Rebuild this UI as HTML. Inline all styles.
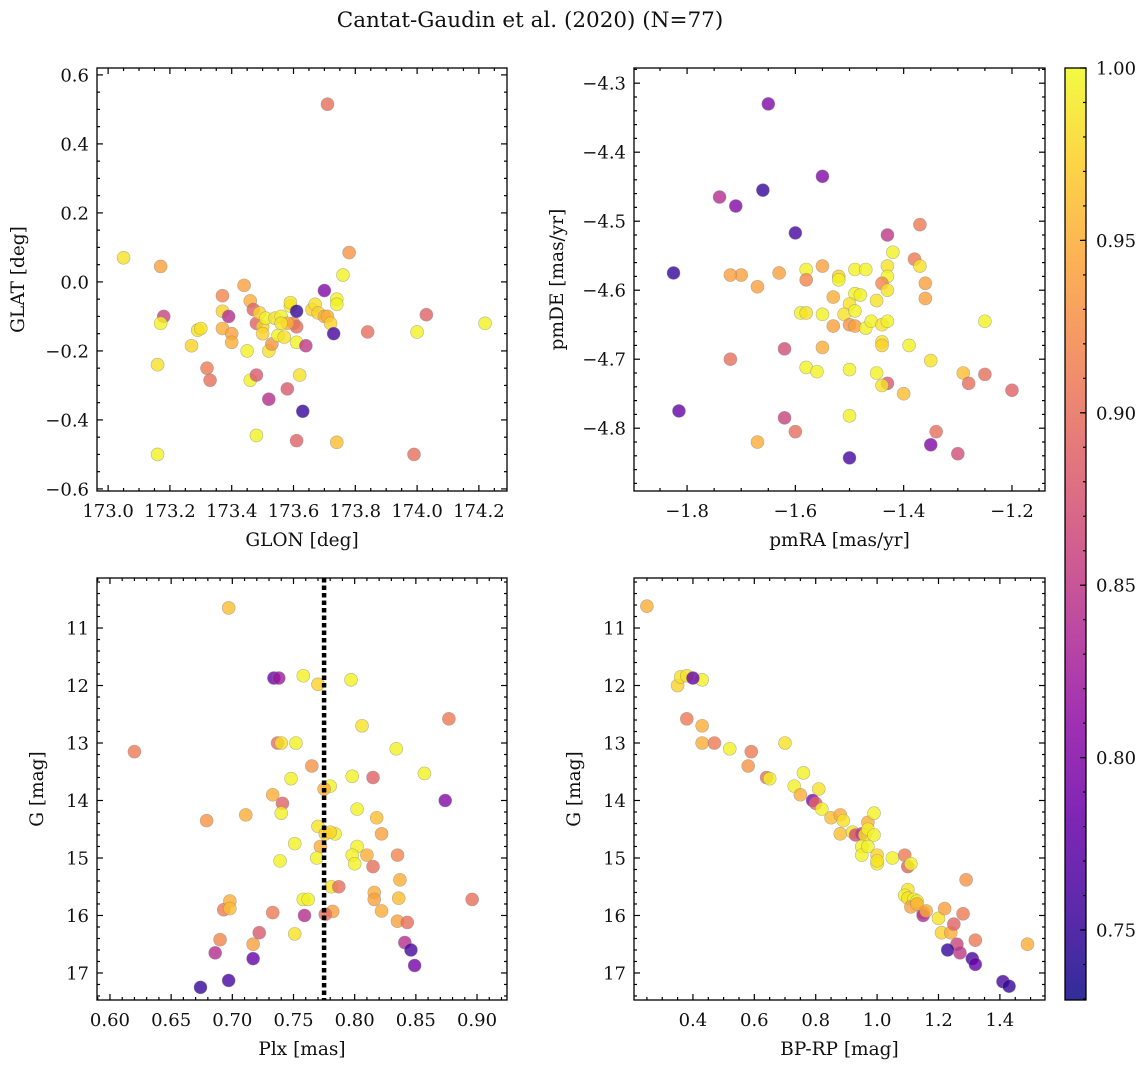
<!DOCTYPE html>
<html><head><meta charset="utf-8"><style>
body{margin:0;background:#fff}
svg text{font-family:"DejaVu Serif","Liberation Serif",serif;fill:#111}
</style></head><body>
<svg id="fig" width="1148" height="1067" xmlns="http://www.w3.org/2000/svg">
<text x="530" y="27" font-size="21.5" text-anchor="middle">Cantat-Gaudin et al. (2020) (N=77)</text>
</svg>
<script>
const glonVals=[173.05,173.17,173.18,173.17,173.16,173.16,173.27,173.29,173.3,173.32,173.33,173.37,173.37,173.37,173.39,173.4,173.4,173.44,173.45,173.46,173.46,173.47,173.48,173.48,173.48,173.49,173.5,173.5,173.51,173.52,173.52,173.53,173.54,173.55,173.56,173.57,173.58,173.59,173.59,173.6,173.61,173.61,173.61,173.62,173.61,173.63,173.64,173.66,173.67,173.68,173.7,173.7,173.71,173.71,173.72,173.73,173.74,173.74,173.74,173.76,173.78,173.84,173.99,174.0,174.03,174.22,173.58,173.56];
const glatVals=[0.07,0.045,-0.10,-0.12,-0.24,-0.50,-0.185,-0.14,-0.135,-0.25,-0.285,-0.04,-0.085,-0.135,-0.10,-0.15,-0.175,-0.01,-0.20,-0.285,-0.055,-0.08,-0.12,-0.27,-0.445,-0.09,-0.13,-0.15,-0.105,-0.34,-0.20,-0.18,-0.105,-0.155,-0.10,-0.16,-0.31,-0.07,-0.06,-0.12,-0.085,-0.13,-0.175,-0.27,-0.46,-0.375,-0.185,-0.08,-0.065,-0.09,-0.025,-0.10,-0.10,0.515,-0.12,-0.15,-0.05,-0.065,-0.465,0.02,0.085,-0.145,-0.50,-0.145,-0.095,-0.12,-0.12,-0.12];
const probTL=[0.985,0.94,0.86,0.995,0.985,0.995,0.975,0.985,0.985,0.91,0.90,0.92,0.975,0.95,0.84,0.94,0.95,0.94,0.995,0.995,0.95,0.89,0.89,0.88,0.995,0.975,0.975,0.975,0.995,0.84,0.985,0.93,0.985,0.995,0.995,0.985,0.88,0.995,0.985,0.92,0.75,0.90,0.995,0.985,0.89,0.75,0.85,0.975,0.985,0.975,0.80,0.95,0.95,0.90,0.975,0.76,0.995,0.995,0.96,0.995,0.93,0.90,0.90,0.995,0.89,0.995,0.95,0.985];
const pmraVals=[-1.65,-1.55,-1.74,-1.71,-1.66,-1.825,-1.815,-1.60,-1.43,-1.37,-1.38,-1.37,-1.70,-1.72,-1.67,-1.63,-1.58,-1.58,-1.55,-1.52,-1.52,-1.49,-1.47,-1.43,-1.42,-1.43,-1.44,-1.36,-1.36,-1.43,-1.45,-1.49,-1.48,-1.50,-1.53,-1.51,-1.49,-1.59,-1.58,-1.55,-1.53,-1.50,-1.49,-1.47,-1.46,-1.44,-1.43,-1.62,-1.55,-1.44,-1.44,-1.39,-1.35,-1.72,-1.58,-1.56,-1.50,-1.45,-1.43,-1.44,-1.40,-1.29,-1.28,-1.25,-1.25,-1.20,-1.50,-1.67,-1.62,-1.60,-1.34,-1.35,-1.30,-1.50];
const pmdeVals=[-4.33,-4.435,-4.465,-4.478,-4.455,-4.575,-4.775,-4.517,-4.52,-4.505,-4.555,-4.565,-4.578,-4.578,-4.595,-4.575,-4.57,-4.585,-4.565,-4.58,-4.585,-4.57,-4.57,-4.565,-4.545,-4.58,-4.59,-4.59,-4.612,-4.6,-4.615,-4.605,-4.607,-4.62,-4.61,-4.635,-4.63,-4.633,-4.633,-4.635,-4.652,-4.65,-4.652,-4.655,-4.645,-4.65,-4.645,-4.685,-4.683,-4.675,-4.68,-4.68,-4.702,-4.70,-4.712,-4.718,-4.715,-4.72,-4.735,-4.738,-4.75,-4.72,-4.735,-4.722,-4.645,-4.745,-4.782,-4.82,-4.785,-4.805,-4.805,-4.824,-4.837,-4.843];
const probTR=[0.80,0.80,0.84,0.80,0.75,0.75,0.78,0.76,0.85,0.91,0.91,0.985,0.94,0.94,0.94,0.94,0.995,0.92,0.94,0.975,0.995,0.995,0.995,0.985,0.995,0.995,0.92,0.94,0.94,0.985,0.985,0.995,0.995,0.985,0.95,0.985,0.995,0.995,0.985,0.995,0.94,0.93,0.94,0.995,0.995,0.985,0.995,0.87,0.95,0.985,0.975,0.995,0.985,0.90,0.995,0.995,0.995,0.995,0.88,0.985,0.96,0.96,0.90,0.90,0.995,0.89,0.995,0.95,0.86,0.90,0.90,0.80,0.87,0.76];
const plxVals=[0.697,0.734,0.738,0.758,0.770,0.797,0.806,0.877,0.620,0.737,0.740,0.752,0.765,0.780,0.775,0.798,0.815,0.834,0.857,0.874,0.748,0.733,0.741,0.740,0.711,0.679,0.770,0.776,0.784,0.780,0.802,0.818,0.822,0.751,0.772,0.802,0.798,0.810,0.739,0.769,0.800,0.815,0.835,0.837,0.781,0.787,0.816,0.816,0.758,0.762,0.822,0.836,0.835,0.843,0.896,0.782,0.776,0.759,0.733,0.693,0.698,0.698,0.751,0.722,0.690,0.717,0.686,0.841,0.846,0.717,0.697,0.674,0.849];
const gPlxVals=[10.65,11.87,11.87,11.83,11.98,11.9,12.7,12.58,13.15,13.0,13.0,13.0,13.4,13.75,13.8,13.58,13.6,13.1,13.53,14.0,13.62,13.9,14.05,14.22,14.25,14.35,14.45,14.58,14.58,14.55,14.15,14.3,14.58,14.75,14.8,14.8,14.95,14.95,15.05,15.0,15.1,15.15,14.95,15.38,15.5,15.5,15.6,15.72,15.72,15.72,15.92,15.7,16.1,16.12,15.72,15.93,15.98,16.0,15.95,15.9,15.75,15.88,16.32,16.3,16.42,16.5,16.65,16.47,16.6,16.75,17.13,17.25,16.87];
const probBL=[0.96,0.78,0.82,0.995,0.975,0.995,0.985,0.91,0.91,0.90,0.985,0.995,0.93,0.995,0.95,0.995,0.89,0.995,0.995,0.80,0.995,0.95,0.89,0.995,0.95,0.93,0.985,0.975,0.995,0.975,0.995,0.96,0.94,0.995,0.95,0.995,0.995,0.95,0.995,0.995,0.995,0.90,0.92,0.95,0.985,0.90,0.95,0.94,0.995,0.995,0.95,0.96,0.94,0.90,0.90,0.94,0.90,0.84,0.91,0.91,0.95,0.96,0.985,0.88,0.92,0.94,0.84,0.84,0.76,0.78,0.76,0.75,0.79];
const plxLine=0.775;
const bprpVals=[0.25,0.35,0.36,0.38,0.43,0.40,0.38,0.43,0.43,0.47,0.52,0.59,0.58,0.70,0.64,0.65,0.73,0.76,0.75,0.79,0.80,0.81,0.82,0.85,0.88,0.89,0.88,0.92,0.93,0.95,0.96,0.97,0.97,0.99,0.99,0.95,0.95,0.97,1.0,1.0,1.05,1.09,1.1,1.11,1.1,1.09,1.1,1.12,1.11,1.13,1.15,1.15,1.16,1.2,1.22,1.21,1.24,1.25,1.26,1.28,1.29,1.32,1.23,1.27,1.31,1.32,1.41,1.43,1.49,1.0,1.13];
const gCmdVals=[10.62,12.0,11.85,11.83,11.9,11.87,12.58,12.7,13.0,13.0,13.1,13.15,13.4,13.0,13.6,13.62,13.75,13.52,13.9,14.0,14.05,13.8,14.15,14.3,14.25,14.35,14.58,14.55,14.6,14.58,14.6,14.38,14.5,14.22,14.6,14.8,14.95,14.8,14.95,15.1,15.0,14.95,15.15,15.1,15.55,15.65,15.7,15.72,15.85,15.75,15.95,16.0,15.92,16.05,15.88,16.3,16.3,16.15,16.5,15.97,15.38,16.43,16.6,16.65,16.75,16.85,17.15,17.23,16.5,15.05,15.8];
const probBR=[0.95,0.975,0.985,0.985,0.995,0.78,0.91,0.95,0.95,0.91,0.995,0.91,0.93,0.985,0.90,0.995,0.995,0.995,0.95,0.80,0.89,0.985,0.995,0.96,0.95,0.985,0.96,0.985,0.87,0.85,0.985,0.95,0.995,0.995,0.995,0.995,0.995,0.995,0.975,0.995,0.995,0.91,0.89,0.995,0.985,0.995,0.985,0.995,0.94,0.995,0.90,0.84,0.95,0.985,0.94,0.975,0.95,0.89,0.86,0.91,0.93,0.91,0.75,0.85,0.76,0.78,0.76,0.75,0.95,0.985,0.95];
const cbTicks=[0.75,0.80,0.85,0.90,0.95,1.00];
const CMIN=0.7297,CMAX=1.0;

const NS="http://www.w3.org/2000/svg";
const svg=document.getElementById('fig');
function mk(t,a,p){const e=document.createElementNS(NS,t);for(const k in a)e.setAttribute(k,a[k]);(p||svg).appendChild(e);return e;}
const stops=["#0d0887","#41049d","#6a00a8","#8f0da4","#b12a90","#cc4778","#e16462","#f2844b","#fca636","#fcce25","#f0f921"];
function hex(h){return [1,3,5].map(i=>parseInt(h.substr(i,2),16));}
function plasma(t){t=Math.max(0,Math.min(1,t));const f=t*10,i=Math.min(9,Math.floor(f)),r=f-i;const a=hex(stops[i]),b=hex(stops[i+1]);return 'rgb('+a.map((v,k)=>Math.round(v+(b[k]-v)*r)).join(',')+')';}
function col(p){return plasma((p-CMIN)/(CMAX-CMIN));}
function fmt(v,d){return (v<0?'\u2212':'')+Math.abs(v).toFixed(d);}
const TF=18, LF=18.5;

function panel(o){
  const g=mk('g',{});
  
  
  const sx=v=>o.x0+(v-o.xr[0])/(o.xr[1]-o.xr[0])*(o.x1-o.x0);
  const sy=o.inv?(v=>o.y0+(v-o.yr[0])/(o.yr[1]-o.yr[0])*(o.y1-o.y0)):(v=>o.y1-(v-o.yr[0])/(o.yr[1]-o.yr[0])*(o.y1-o.y0));
  const tk=mk('g',{stroke:'#000','stroke-width':1.2},g);
  function ticks(r,step,minor,fn){const s=Math.ceil(r[0]/minor-1e-6),e=Math.floor(r[1]/minor+1e-6);for(let i=s;i<=e;i++){const v=i*minor;const isM=Math.abs(v/step-Math.round(v/step))<1e-6;fn(v,isM);}}
  ticks(o.xr,o.xs,o.xm,(v,M)=>{const X=sx(v),L=M?6:3;mk('line',{x1:X,x2:X,y1:o.y1,y2:o.y1-L},tk);mk('line',{x1:X,x2:X,y1:o.y0,y2:o.y0+L},tk);
    if(M){const t=mk('text',{x:X,y:o.y1+26,'font-size':TF,'text-anchor':'middle'},g);t.textContent=fmt(v,o.xd);}});
  ticks(o.yr,o.ys,o.ym,(v,M)=>{const Y=sy(v),L=M?6:3;mk('line',{x1:o.x0,x2:o.x0+L,y1:Y,y2:Y},tk);mk('line',{x1:o.x1,x2:o.x1-L,y1:Y,y2:Y},tk);
    if(M){const t=mk('text',{x:o.x0-8,y:Y+6.5,'font-size':TF,'text-anchor':'end'},g);t.textContent=fmt(v,o.yd);}});
  const pts=mk('g',{},g);
  
  
  o.xs_.forEach((xv,i)=>{const c=mk('circle',{cx:sx(xv),cy:sy(o.ys_[i]),r:6.5,fill:col(o.p[i]),'fill-opacity':0.8,stroke:'#888','stroke-opacity':0.6,'stroke-width':0.6},pts);
    
    });
  if(o.extra)o.extra(g,sx,sy);
  const fr=mk('rect',{x:o.x0,y:o.y0,width:o.x1-o.x0,height:o.y1-o.y0,fill:'none',stroke:'#000','stroke-width':1.3},g);
  
  
  const xl=mk('text',{x:(o.x0+o.x1)/2,y:o.y1+55,'font-size':LF,'text-anchor':'middle'},g);xl.textContent=o.xl;
  
  
  const cy=(o.y0+o.y1)/2,cx=o.x0-o.ylo;
  const yl=mk('text',{x:cx,y:cy,'font-size':LF,'text-anchor':'middle',transform:`rotate(-90 ${cx} ${cy})`},g);yl.textContent=o.yl;
  
  
}
panel({name:'panel-glon-glat',x0:97,x1:507,y0:68,y1:491,xr:[172.964,174.291],yr:[-0.606,0.620],xs:0.2,xm:0.05,ys:0.2,ym:0.05,xd:1,yd:1,xs_:glonVals,ys_:glatVals,p:probTL,xl:'GLON [deg]',yl:'GLAT [deg]',ylo:73});
panel({name:'panel-proper-motion',x0:634,x1:1045,y0:68,y1:491,xr:[-1.898,-1.139],yr:[-4.891,-4.278],xs:0.2,xm:0.05,ys:0.1,ym:0.02,xd:1,yd:1,xs_:pmraVals,ys_:pmdeVals,p:probTR,xl:'pmRA [mas/yr]',yl:'pmDE [mas/yr]',ylo:71});
panel({name:'panel-plx-g',x0:97,x1:507,y0:578,y1:1000,xr:[0.5894,0.9245],yr:[10.13,17.47],inv:true,xs:0.05,xm:0.01,ys:1,ym:0.2,xd:2,yd:0,xs_:plxVals,ys_:gPlxVals,p:probBL,xl:'Plx [mas]',yl:'G [mag]',ylo:54,
  extra:(g,sx,sy)=>{const l=mk('line',{x1:sx(plxLine),x2:sx(plxLine),y1:578,y2:1000,stroke:'#000','stroke-width':4.5,'stroke-dasharray':'4.5 3'},g);}});
panel({name:'panel-cmd',x0:634,x1:1045,y0:578,y1:1000,xr:[0.208,1.547],yr:[10.13,17.47],inv:true,xs:0.2,xm:0.05,ys:1,ym:0.2,xd:1,yd:0,xs_:bprpVals,ys_:gCmdVals,p:probBR,xl:'BP-RP [mag]',yl:'G [mag]',ylo:54});

const cb=mk('g',{});


const cx0=1065,cx1=1086,cy0=68,cy1=1000;
const defs=mk('defs',{},cb);const lg=mk('linearGradient',{id:'cbg',x1:0,y1:1,x2:0,y2:0},defs);
for(let i=0;i<=20;i++){mk('stop',{offset:i/20,'stop-color':plasma(i/20),'stop-opacity':0.85},lg);}
mk('rect',{x:cx0,y:cy0,width:cx1-cx0,height:cy1-cy0,fill:'url(#cbg)'},cb);
const cyv=v=>cy1-(v-CMIN)/(CMAX-CMIN)*(cy1-cy0);
for(let i=73;i<=100;i++){const v=i/100;const Y=cyv(v);mk('line',{x1:cx1,x2:cx1-3,y1:Y,y2:Y,stroke:'#000','stroke-width':1.2},cb);}
cbTicks.forEach(v=>{const Y=cyv(v);mk('line',{x1:cx1,x2:cx1-6,y1:Y,y2:Y,stroke:'#000','stroke-width':1.2},cb);
  const t=mk('text',{x:cx1+10,y:Y+6.5,'font-size':TF},cb);t.textContent=v.toFixed(2);
  
  });
mk('rect',{x:cx0,y:cy0,width:cx1-cx0,height:cy1-cy0,fill:'none',stroke:'#000','stroke-width':1.3},cb);
</script>
</body></html>
